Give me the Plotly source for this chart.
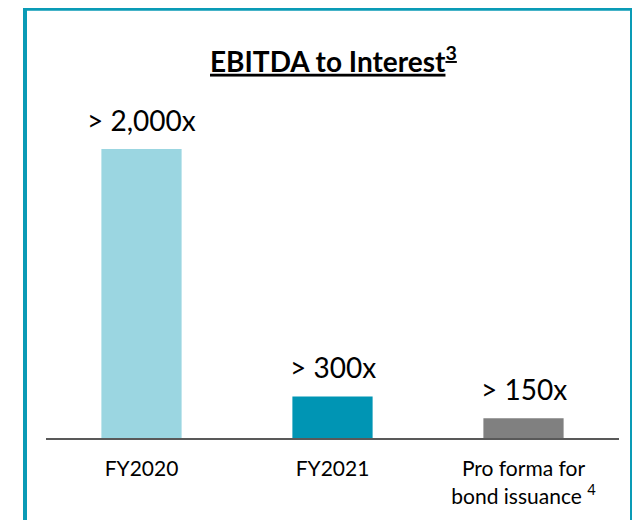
import plotly.graph_objects as go

categories = ["FY2020", "FY2021", "Pro forma for<br>bond issuance <sup>4</sup>"]
values = [2000, 288, 137]
value_labels = ["> 2,000x", "> 300x", "> 150x"]
bar_colors = ["#9BD6E1", "#0095B4", "#808080"]

FONT = "Lato"

# page is offset by the 8px default body margin
OFF = 8
W, H = 640 - OFF, 520 - OFF
L, R, T, B = 46 - OFF, W - (619 - OFF), 60, H - (442 - OFF)
pw, ph = W - L - R, H - T - B


def px(x):
    return (x - OFF - L) / pw


def py(y):
    return (H - B - (y - OFF)) / ph


fig = go.Figure(
    go.Bar(
        x=categories,
        y=values,
        marker=dict(color=bar_colors, line=dict(width=0)),
        width=0.42,
        hoverinfo="skip",
    )
)

annotations = [
    dict(
        x=c,
        y=v,
        xref="x",
        yref="y",
        text=t,
        showarrow=False,
        xanchor="center",
        yanchor="bottom",
        yshift=10,
        font=dict(family=FONT, size=28, color="black"),
    )
    for c, v, t in zip(categories, values, value_labels)
]
annotations.append(
    dict(
        text="<b><u>EBITDA to Interest<sup>3</sup></u></b>",
        xref="paper",
        yref="paper",
        x=px(333),
        y=py(59),
        xanchor="center",
        yanchor="middle",
        showarrow=False,
        font=dict(family=FONT, size=28, color="black"),
    )
)

fig.update_layout(
    width=W,
    height=H,
    margin=dict(l=L, r=R, t=T, b=B),
    paper_bgcolor="white",
    plot_bgcolor="white",
    showlegend=False,
    font=dict(family=FONT, color="black"),
    xaxis=dict(
        showline=True,
        linecolor="#595959",
        linewidth=2,
        showgrid=False,
        ticks="",
        tickfont=dict(family=FONT, size=21, color="black"),
        ticklabelstandoff=11,
    ),
    yaxis=dict(
        visible=False,
        range=[0, 2000 * ph / 292],
        showgrid=False,
        zeroline=False,
    ),
    shapes=[
        dict(
            type="rect",
            xref="paper",
            yref="paper",
            x0=px(25),
            x1=px(632),
            y0=py(560),
            y1=py(8),
            line=dict(color="#0A9BB6", width=4),
            fillcolor="rgba(0,0,0,0)",
            layer="above",
        )
    ],
    annotations=annotations,
)

fig.write_html("out.html")
